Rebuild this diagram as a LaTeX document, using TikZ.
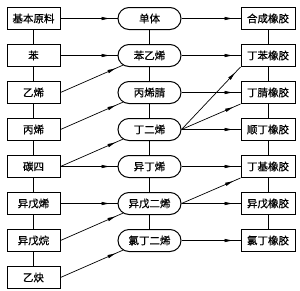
\documentclass[tikz,border=0pt]{standalone}
\usepackage{fontspec}
\newfontfamily\cjk{Noto Sans CJK SC}[FakeBold=0.6]
\usetikzlibrary{arrows.meta,positioning,shapes.misc,decorations.markings}

\begin{document}
\begin{tikzpicture}[
    x=1pt, y=1pt,
    node distance=14pt and 57pt,
    font=\cjk\fontsize{10.5}{12}\selectfont,
    srcbox/.style={
        rectangle,
        draw,
        line width=1pt,
        minimum width=53pt,
        minimum height=22pt,
        inner sep=1pt
    },
    monobox/.style={
        rounded rectangle,
        draw,
        line width=1pt,
        minimum width=65pt,
        minimum height=22pt,
        inner sep=1pt
    },
    rubberbox/.style={
        rectangle,
        draw,
        line width=1pt,
        minimum width=54pt,
        minimum height=22pt,
        inner sep=1pt
    },
    link/.style={line width=0.7pt},
    feed/.style={
        line width=0.7pt,
        postaction={decorate},
        decoration={markings,
            mark=at position -7pt with {\arrow{Latex[length=9pt,width=3.5pt]}}}
    }
]
\useasboundingbox (0,0) rectangle (300,-290);

% raw materials
\node[srcbox] (raw) at (33.5,-18.5) {基本原料};
\node[srcbox, below=of raw] (benzene) {苯};
\node[srcbox, below=of benzene] (ethylene) {乙烯};
\node[srcbox, below=of ethylene] (propylene) {丙烯};
\node[srcbox, below=of propylene] (cfour) {碳四};
\node[srcbox, below=of cfour] (isopentene) {异戊烯};
\node[srcbox, below=of isopentene] (isopentane) {异戊烷};
\node[srcbox, below=of isopentane] (acetylene) {乙炔};

% monomers
\node[monobox, right=of raw] (monomer) {单体};
\node[monobox, below=of monomer] (styrene) {苯乙烯};
\node[monobox, below=of styrene] (acrylonitrile) {丙烯腈};
\node[monobox, below=of acrylonitrile] (butadiene) {丁二烯};
\node[monobox, below=of butadiene] (isobutylene) {异丁烯};
\node[monobox, below=of isobutylene] (isoprene) {异戊二烯};
\node[monobox, below=of isoprene] (chloroprene) {氯丁二烯};

% rubbers
\node[rubberbox, right=59pt of monomer] (rubber) {合成橡胶};
\node[rubberbox, below=of rubber] (sbr) {丁苯橡胶};
\node[rubberbox, below=of sbr] (nbr) {丁腈橡胶};
\node[rubberbox, below=of nbr] (br) {顺丁橡胶};
\node[rubberbox, below=of br] (iir) {丁基橡胶};
\node[rubberbox, below=of iir] (ir) {异戊橡胶};
\node[rubberbox, below=of ir] (cr) {氯丁橡胶};

% column spines
\foreach \a/\b in {raw/benzene, benzene/ethylene, ethylene/propylene,
    propylene/cfour, cfour/isopentene, isopentene/isopentane,
    isopentane/acetylene, monomer/styrene, styrene/acrylonitrile,
    acrylonitrile/butadiene, butadiene/isobutylene, isobutylene/isoprene,
    isoprene/chloroprene, rubber/sbr, sbr/nbr, nbr/br, br/iir, iir/ir, ir/cr}
    \draw[link] (\a) -- (\b);

% raw materials to monomers
\draw[feed] (raw.east) -- (monomer.west);
\draw[feed] (benzene.east) -- (styrene.west);
\draw[feed] (ethylene.east) -- (styrene.200);
\draw[feed] (propylene.east) -- (acrylonitrile.200);
\draw[feed] (cfour.east) -- (butadiene.200);
\draw[feed] (cfour.east) -- (isobutylene.west);
\draw[feed] (isopentene.east) -- (isoprene.west);
\draw[feed] (isopentane.east) -- (isoprene.200);
\draw[feed] (acetylene.east) -- (chloroprene.200);

% monomers to rubbers
\draw[feed] (monomer.east) -- (rubber.west);
\draw[feed] (styrene.east) -- (sbr.west);
\draw[feed] (acrylonitrile.east) -- (nbr.west);
\draw[feed] (butadiene.east) -- (sbr.south west);
\draw[feed] (butadiene.east) -- (nbr.south west);
\draw[feed] (butadiene.east) -- (br.west);
\draw[feed] (isobutylene.east) -- (iir.west);
\draw[feed] (isoprene.east) -- (iir.south west);
\draw[feed] (isoprene.east) -- (ir.west);
\draw[feed] (chloroprene.east) -- (cr.west);
\end{tikzpicture}
\end{document}
